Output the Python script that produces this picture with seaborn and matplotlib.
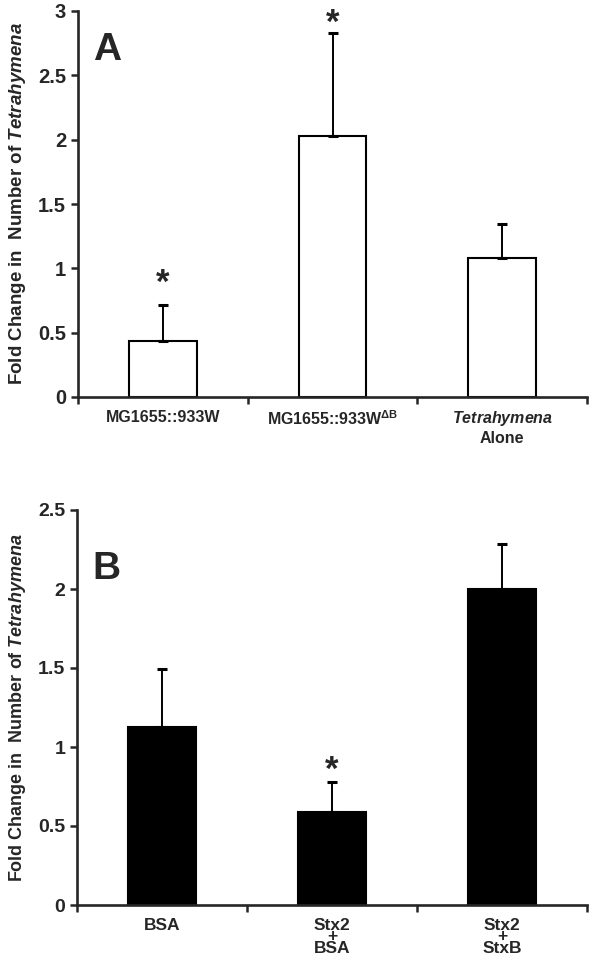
import numpy as np
import pandas as pd
import matplotlib
matplotlib.use("Agg")
import matplotlib.pyplot as plt
import seaborn as sns

# panel A
cats_a = ["MG1655::933W", r"MG1655::933W$^{\mathrm{\Delta B}}$", r"$\mathit{Tetrahymena}$" + "\nAlone"]
vals_a = [0.435, 2.03, 1.08]
err_a = [0.28, 0.80, 0.265]
star_a = [True, True, False]

# panel B
cats_b = ["BSA", "Stx2\n+\nBSA", "Stx2\n+\nStxB"]
vals_b = [1.125, 0.59, 2.0]
err_b = [0.37, 0.19, 0.285]
star_b = [False, True, False]

sns.set_style("ticks")
plt.rcParams["font.family"] = ["Liberation Sans", "DejaVu Sans"]
plt.rcParams["font.weight"] = "bold"
plt.rcParams["mathtext.fontset"] = "custom"
plt.rcParams["mathtext.rm"] = "Liberation Sans:bold"
plt.rcParams["mathtext.bf"] = "Liberation Sans:bold"
plt.rcParams["mathtext.it"] = "Liberation Sans:italic:bold"

fig = plt.figure(figsize=(5.94, 9.66), dpi=100)
ax_a = fig.add_axes([78/594, 1-397/966, (587-78)/594, (397-11)/966])
ax_b = fig.add_axes([77/594, 1-905/966, (587-77)/594, (905-510)/966])


def panel(ax, cats, vals, errs, stars, star_off, fill, ymax, ystep, letter, let_y,
          tick_fs, lab_fs, xt_fs):
    df = pd.DataFrame({"cat": cats, "val": vals})
    sns.barplot(data=df, x="cat", y="val", color=fill, edgecolor="black",
                linewidth=1.5, width=0.4, saturation=1, ax=ax)
    x = np.arange(len(vals))
    ax.errorbar(x, vals, yerr=[np.zeros(len(vals)), errs], fmt="none",
                ecolor="black", elinewidth=1.4, capsize=3.5, capthick=2.2)
    for xi, v, e, s, off in zip(x, vals, errs, stars, star_off):
        if s:
            ax.annotate("*", xy=(xi, v + e), xytext=(0, off),
                        textcoords="offset pixels", ha="center", va="center",
                        fontsize=25, fontweight="bold", annotation_clip=False)
    ax.set_xlim(-0.5, 2.5)
    ax.set_ylim(0, ymax)
    yt = np.arange(0, ymax + 0.001, ystep)
    ax.set_yticks(yt)
    ax.set_yticklabels([f"{t:g}" for t in yt])
    ax.set_xticks([-0.5, 0.5, 1.5, 2.5], minor=True)
    ax.tick_params(axis="x", which="major", length=0, labelsize=xt_fs, pad=9)
    ax.tick_params(axis="x", which="minor", length=5, width=1.8, direction="out")
    ax.tick_params(axis="y", length=5, width=1.8, labelsize=tick_fs)
    for lbl in ax.get_xticklabels() + ax.get_yticklabels():
        lbl.set_fontweight("bold")
    ax.set_xlabel("")
    ax.set_ylabel(r"Fold Change in  Number of $\mathit{Tetrahymena}$",
                  fontsize=lab_fs, fontweight="bold", labelpad=7)
    sns.despine(ax=ax)
    ax.spines["left"].set_linewidth(1.9)
    ax.spines["bottom"].set_linewidth(1.9)
    ax.text(0.03, let_y, letter, transform=ax.transAxes, fontsize=28,
            fontweight="bold", va="center", ha="left")


panel(ax_a, cats_a, vals_a, err_a, star_a, [22, 10, 0], "white", 3, 0.5, "A", 0.9,
      14.5, 13.5, 11.5)
panel(ax_b, cats_b, vals_b, err_b, star_b, [0, 11, 0], "black", 2.5, 0.5, "B", 0.85,
      14, 13, 12.5)
for lbl in ax_b.get_xticklabels():
    lbl.set_linespacing(0.72)

fig.savefig("out.png", dpi=100)
